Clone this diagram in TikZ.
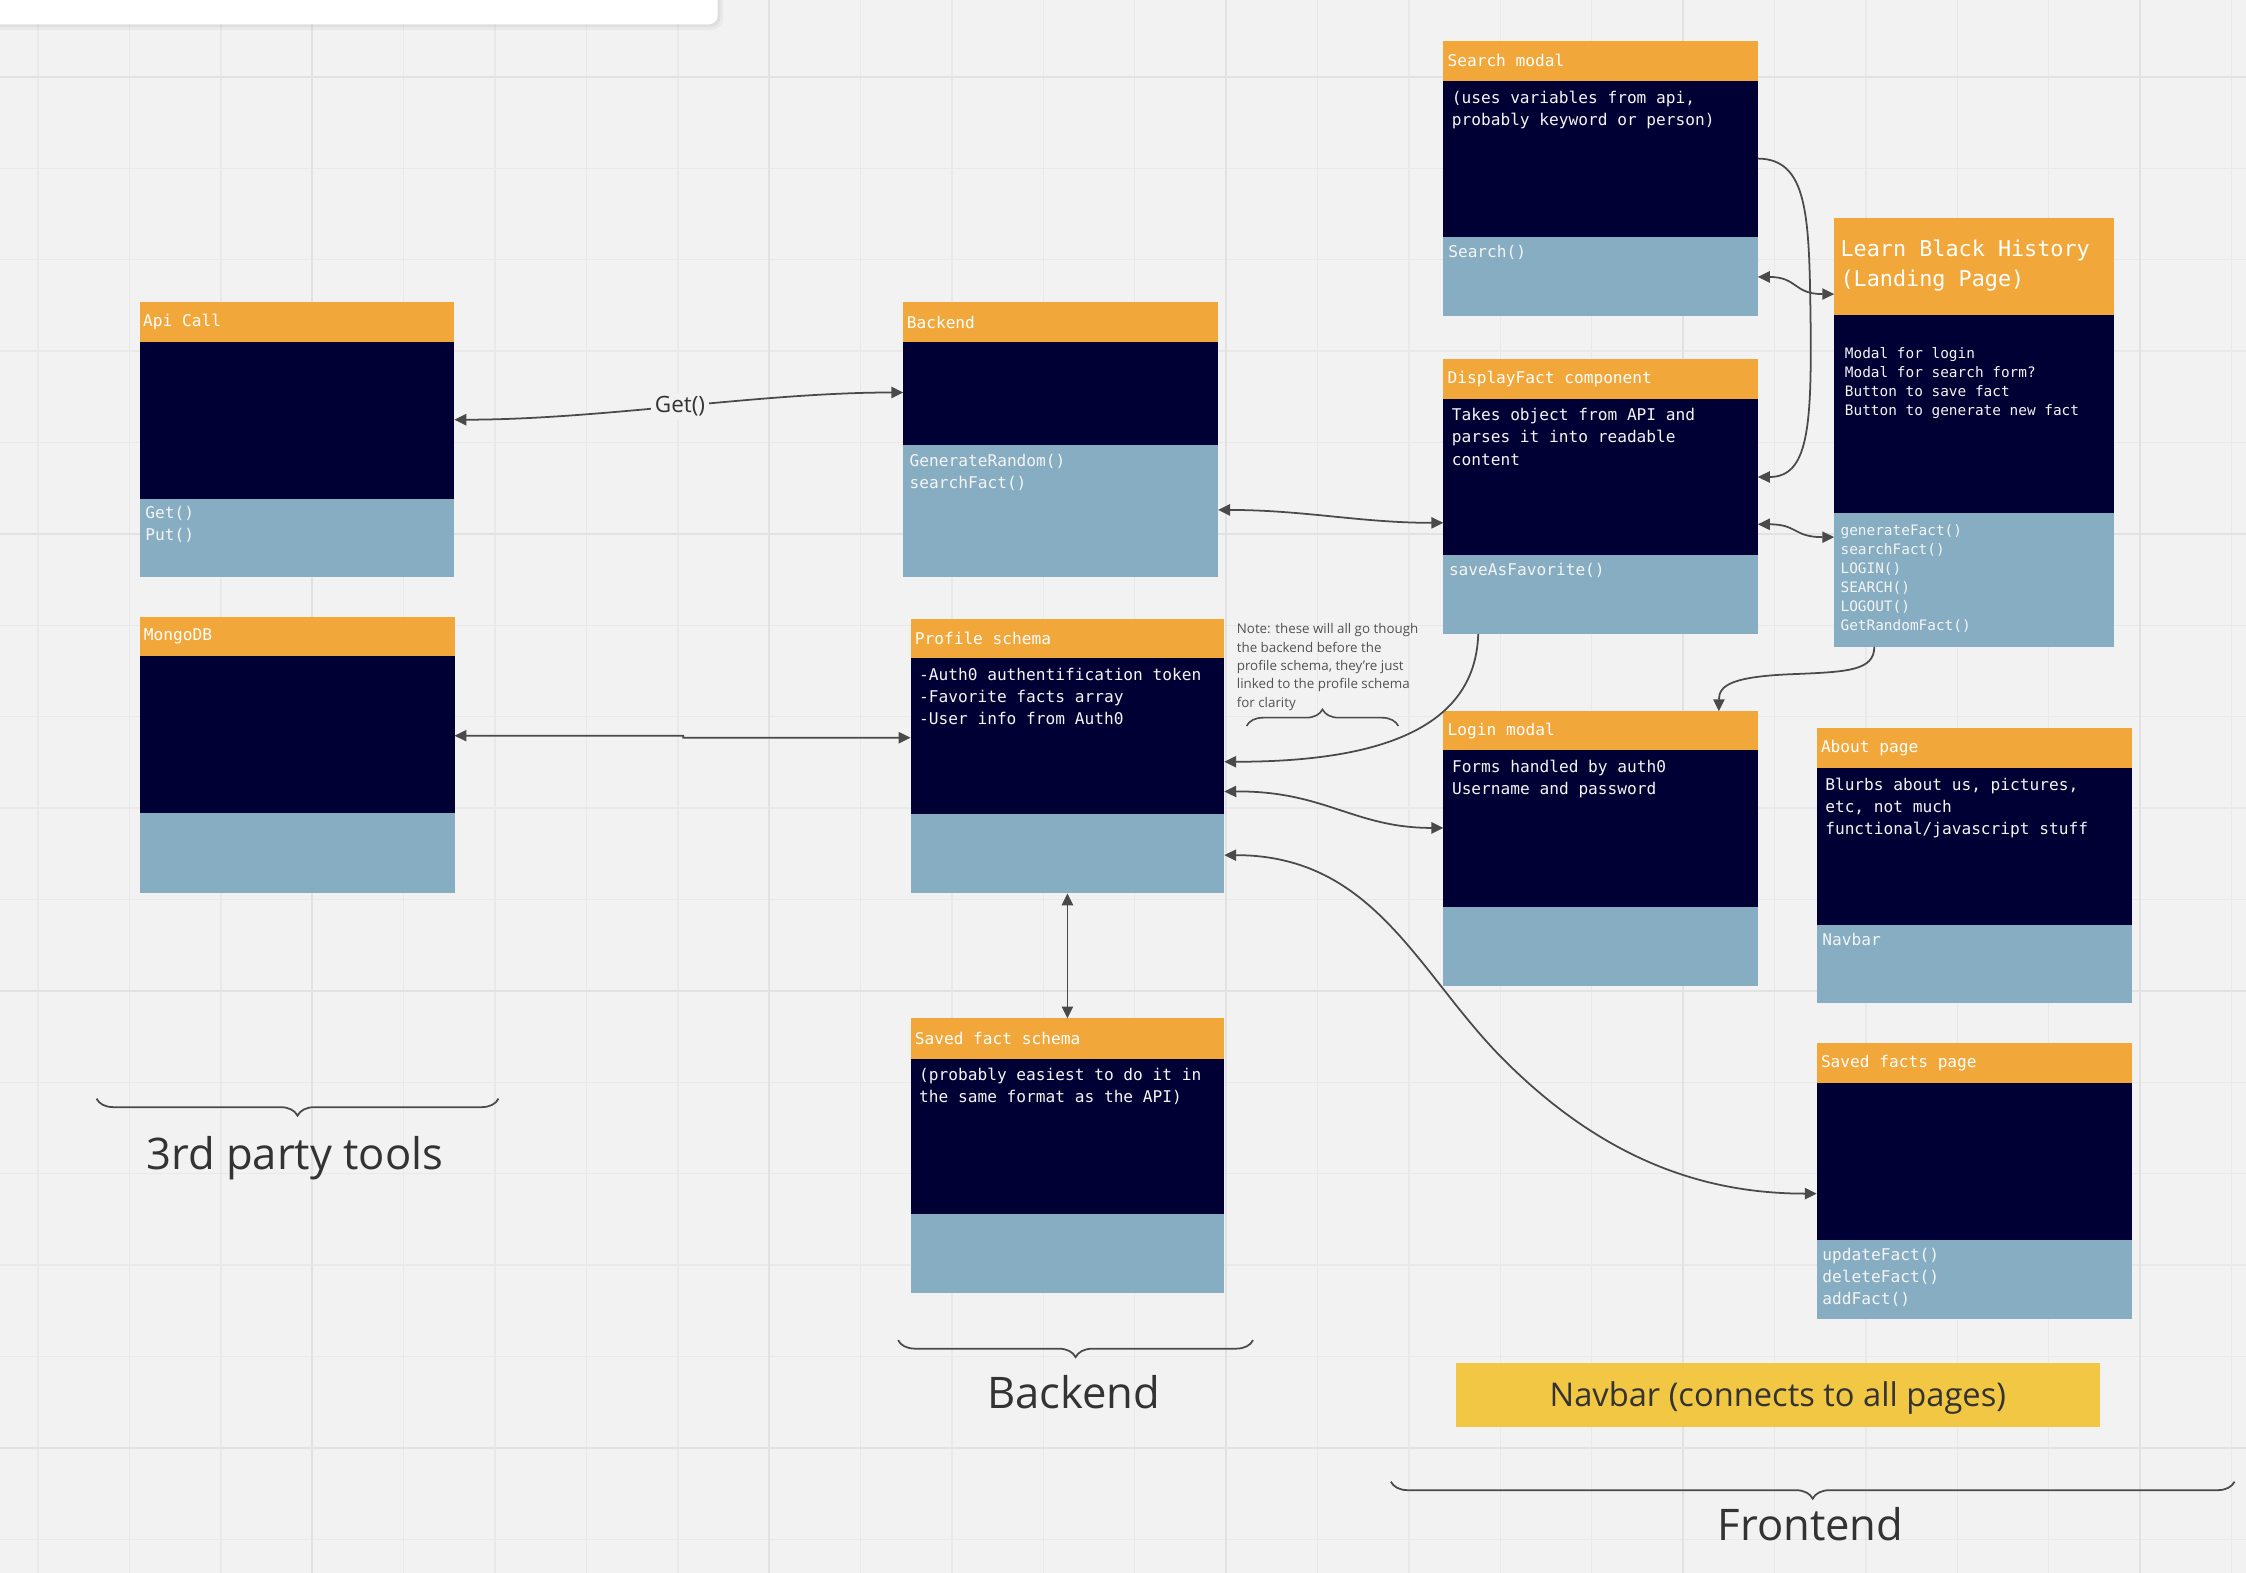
\documentclass[tikz,border=0pt]{standalone}
\usepackage{fontspec}
\usetikzlibrary{arrows.meta,calc,decorations.pathreplacing}
\newfontfamily\monof{DejaVu Sans Mono}
\newfontfamily\opensans{Open Sans}
\def\U{0.014324cm}
\definecolor{bgc}{HTML}{F2F2F2}
\definecolor{hdrc}{HTML}{F2A73B}
\definecolor{bodyc}{HTML}{010034}
\definecolor{footc}{HTML}{87ADC2}
\definecolor{navc}{HTML}{F2C744}
\definecolor{gridmin}{HTML}{E9E9E9}
\definecolor{gridmaj}{HTML}{E2E2E2}
\definecolor{linec}{HTML}{4A4A4A}
\definecolor{labc}{HTML}{333333}
\definecolor{txtc}{HTML}{F4F4F4}
\tikzset{
  part/.style={anchor=north west, inner sep=0pt, outer sep=0pt, draw=none},
  hdrbox/.style={part, fill=hdrc},
  bodybox/.style={part, fill=bodyc},
  footbox/.style={part, fill=footc},
  htext/.style={anchor=west, inner sep=0pt, text=white, font=\monof\fontsize{4.6}{6.3}\selectfont},
  btext/.style={anchor=north west, inner sep=0pt, align=left, text=txtc, font=\monof\fontsize{4.6}{6.3}\selectfont},
  smalltext/.style={btext, font=\monof\fontsize{4.1}{5.4}\selectfont},
  conn/.style={draw=linec, line width=0.5pt, >={Triangle[length=3.4pt,width=3.2pt]}},
  bigbrace/.style={draw=linec, line width=0.5pt, decorate, decoration={brace, mirror, amplitude=0.17cm}},
  notebrace/.style={draw=linec, line width=0.45pt, decorate, decoration={brace, amplitude=0.165cm}},
  grouplabel/.style={anchor=base, text=labc, inner sep=0pt, font=\opensans\fontsize{12.4}{15}\selectfont},
  getlbl/.style={fill=bgc, text=labc, inner sep=1pt, font=\opensans\fontsize{6.4}{8}\selectfont},
  notetext/.style={anchor=north west, inner sep=0pt, align=left, text=labc!85, font=\opensans\fontsize{3.8}{5.2}\selectfont},
  gminor/.style={draw=gridmin, line width=0.4pt},
  gmajor/.style={draw=gridmaj, line width=0.6pt},
}
% #1 name, #2 x, #3 y, #4 width, #5 header h, #6 body h, #7 footer h
\newcommand\umlbox[7]{%
  \node[hdrbox, minimum width=#4*\U, minimum height=#5*\U] (#1) at (#2,#3) {};
  \node[bodybox, minimum width=#4*\U, minimum height=#6*\U] (#1-b) at (#1.south west) {};
  \node[footbox, minimum width=#4*\U, minimum height=#7*\U] (#1-f) at (#1-b.south west) {};
}
\begin{document}
\begin{tikzpicture}[x=0.014324cm, y=-0.014324cm]
\useasboundingbox (0,0) rectangle (1568,1098);
\fill[bgc] (0,0) rectangle (1568,1098);
% grid
\foreach \i in {-3,...,21} \draw[gminor] ({218+63.8*\i},0) -- ({218+63.8*\i},1098);
\foreach \j in {0,...,16} \draw[gminor] (0,{53.75+63.8*\j}) -- (1568,{53.75+63.8*\j});
\foreach \i in {0,5,10,15,20} \draw[gmajor] ({218+63.8*\i},0) -- ({218+63.8*\i},1098);
\foreach \j in {0,5,10,15} \draw[gmajor] (0,{53.75+63.8*\j}) -- (1568,{53.75+63.8*\j});
% top-left white panel
\fill[black, opacity=0.035, rounded corners=0.12cm] (-10,-10) rectangle (505,21);
\fill[black, opacity=0.04, rounded corners=0.1cm] (-10,-10) rectangle (503,19);
\fill[white, rounded corners=0.09cm] (-10,-10) rectangle (501,17);

% boxes
\umlbox{api}{97.5}{211}{219.7}{28}{109.6}{54.2}
\umlbox{mongo}{98}{430.8}{219.3}{27.5}{109.1}{55.8}
\umlbox{backend}{630.6}{211}{219.8}{28}{71.7}{92.1}
\umlbox{profile}{635.7}{432}{219}{27.5}{108.8}{55.4}
\umlbox{saved}{635.7}{711}{219}{28}{108.5}{55.5}
\umlbox{search}{1007.6}{28.7}{219.6}{27.6}{109}{55}
\umlbox{display}{1007.6}{250.7}{219.6}{27.5}{109.3}{55.1}
\umlbox{login}{1007.7}{496.5}{219.7}{27.4}{109.1}{55}
\umlbox{landing}{1280.5}{152}{195.5}{67.7}{138.3}{93.6}
\umlbox{about}{1268.3}{508}{219.9}{28}{109.6}{54.8}
\umlbox{savedp}{1268.3}{728.4}{219.9}{27.6}{109.5}{55.3}

% header texts
\node[htext] (api-t) at ($(api.west)+(2,0)$) {Api Call};
\node[htext] (mongo-t) at ($(mongo.west)+(2,0)$) {MongoDB};
\node[htext] (backend-t) at ($(backend.west)+(2,0)$) {Backend};
\node[htext] (profile-t) at ($(profile.west)+(2.5,0)$) {Profile schema};
\node[htext] (saved-t) at ($(saved.west)+(2.5,0)$) {Saved fact schema};
\node[htext] (search-t) at ($(search.west)+(2.5,0)$) {Search modal};
\node[htext] (display-t) at ($(display.west)+(2.5,0)$) {DisplayFact component};
\node[htext] (login-t) at ($(login.west)+(2.5,0)$) {Login modal};
\node[htext] (about-t) at ($(about.west)+(2.5,0)$) {About page};
\node[htext] (savedp-t) at ($(savedp.west)+(2.5,0)$) {Saved facts page};
\node[btext, text=white, font=\monof\fontsize{6.2}{8.5}\selectfont] (landing-t) at ($(landing.north west)+(4,15)$) {Learn Black History\\(Landing Page)};

% body texts
\node[btext] (profile-bt) at ($(profile-b.north west)+(5.5,6.5)$) {-Auth0 authentification token\\-Favorite facts array\\-User info from Auth0};
\node[btext] (saved-bt) at ($(saved-b.north west)+(5.5,6)$) {(probably easiest to do it in\\the same format as the API)};
\node[btext] (search-bt) at ($(search-b.north west)+(5.5,6.5)$) {(uses variables from api,\\probably keyword or person)};
\node[btext] (display-bt) at ($(display-b.north west)+(5.5,6.5)$) {Takes object from API and\\parses it into readable\\content};
\node[btext] (login-bt) at ($(login-b.north west)+(5.5,6.5)$) {Forms handled by auth0\\Username and password};
\node[btext] (about-bt) at ($(about-b.north west)+(5.5,6.5)$) {Blurbs about us, pictures,\\etc, not much\\functional/javascript stuff};
\node[smalltext] (landing-bt) at ($(landing-b.north west)+(7,22.5)$) {Modal for login\\Modal for search form?\\Button to save fact\\Button to generate new fact};

% footer texts
\node[btext] (api-ft) at ($(api-f.north west)+(3.5,4.5)$) {Get()\\Put()};
\node[btext] (backend-ft) at ($(backend-f.north west)+(4,6)$) {GenerateRandom()\\searchFact()};
\node[btext] (search-ft) at ($(search-f.north west)+(3,5.5)$) {Search()};
\node[btext] (display-ft) at ($(display-f.north west)+(3.5,5.5)$) {saveAsFavorite()};
\node[btext] (about-ft) at ($(about-f.north west)+(3.5,5.5)$) {Navbar};
\node[btext] (savedp-ft) at ($(savedp-f.north west)+(3.5,5.5)$) {updateFact()\\deleteFact()\\addFact()};
\node[smalltext] (landing-ft) at ($(landing-f.north west)+(4,7.5)$) {generateFact()\\searchFact()\\LOGIN()\\SEARCH()\\LOGOUT()\\GetRandomFact()};

% note
\node[notetext] (note) at (863,435) {Note: these will all go though\\the backend before the\\profile schema, they’re just\\linked to the profile schema\\for clarity};
\coordinate (nbl) at (870.3,506.8);
\coordinate (nbr) at (976.2,506.8);
\draw[notebrace] (nbl) -- (nbr);

% navbar
\node[part, fill=navc, minimum width=449.7*\U, minimum height=44.7*\U] (navbar) at (1016.3,951.3) {};
\node[anchor=base, inner sep=0pt, text=labc, font=\opensans\fontsize{9.3}{11}\selectfont] (navbar-t) at ($(navbar.center)+(0,8.4)$) {Navbar (connects to all pages)};

% group braces and labels
\coordinate (b3l) at (67.4,767);
\coordinate (b3r) at (348,767);
\draw[bigbrace] (b3l) -- (b3r);
\node[grouplabel] (lab3rd) at (205.8,816.3) {3rd party tools};
\coordinate (bbl) at (627,935.6);
\coordinate (bbr) at (874.8,935.6);
\draw[bigbrace] (bbl) -- (bbr);
\node[grouplabel] (labback) at (749.7,983.1) {Backend};
\coordinate (bfl) at (971,1034.4);
\coordinate (bfr) at (1560,1034.4);
\draw[bigbrace] (bfl) -- (bfr);
\node[grouplabel] (labfront) at (1264,1075.6) {Frontend};

% connectors
\draw[conn,<->] ($(api-b.north east)+(0,54)$) .. controls (420,293) and (530,274) .. ($(backend-b.north west)+(0,35)$) node[getlbl, pos=0.5] (getl) {Get()};
\draw[conn,<->] ($(backend-f.north east)+(0,45.3)$) .. controls (910,356) and (950,365) .. ($(display-b.north west)+(0,86.8)$);
\draw[conn,<->] ($(mongo-b.north east)+(0,55.3)$) -- (477,513.6) -- (477,515) -- ($(profile-b.north west)+(0,55.5)$);
\draw[conn,<->] (profile-f.south) -- (saved.north);
\draw[conn,<->] ($(search-f.north east)+(0,28)$) .. controls (1255,193.4) and (1252,205.3) .. ($(landing.north west)+(0,53.3)$);
\draw[conn,<->] ($(display-b.north east)+(0,87.8)$) .. controls (1255,366) and (1252,375) .. ($(landing-f.north west)+(0,17)$);
\draw[conn,->] ($(search-b.north east)+(0,54.4)$) .. controls (1262,111) and (1263,150) .. (1264,222) .. controls (1265,300) and (1262,333) .. ($(display-b.north east)+(0,54.8)$);
\draw[conn,->] ($(landing-f.south west)+(28,0)$) .. controls (1308.5,468) and (1290,469) .. (1255,470.5) .. controls (1210,472) and (1200,478) .. ($(login.north west)+(192.3,0)$);
\draw[conn,->] ($(display-f.south west)+(24.4,0)$) .. controls (1030,510) and (960,531.8) .. ($(profile-b.north east)+(0,72.3)$);
\draw[conn,<->] ($(profile-b.north east)+(0,93.1)$) .. controls (925,552) and (945,578) .. ($(login-b.north west)+(0,54.1)$);
\draw[conn,<->] ($(profile-f.north east)+(0,28.7)$) .. controls (960,597) and (990,680) .. (1050,740) .. controls (1120,810) and (1190,833.3) .. ($(savedp-b.north west)+(0,77.3)$);
\end{tikzpicture}
\end{document}
